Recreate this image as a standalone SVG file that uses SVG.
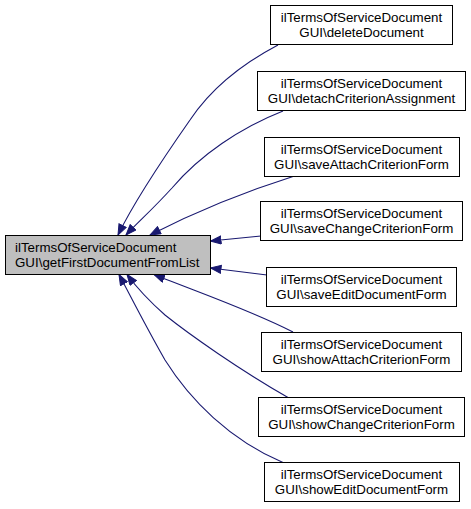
<svg xmlns="http://www.w3.org/2000/svg" width="471" height="509" viewBox="0 0 471 509">
<style>
.n rect{fill:#ffffff;stroke:#000000;stroke-width:1}
.m rect{fill:#bfbfbf;stroke:#000000;stroke-width:1}
text{font-family:"Liberation Sans",Arial,sans-serif;font-size:13.33px;fill:#000000}
.c text{text-anchor:middle}
.e path{fill:none;stroke:#191970;stroke-width:1.1;marker-end:url(#ah)}
</style>
<defs>
<marker id="ah" markerUnits="userSpaceOnUse" markerWidth="13" markerHeight="10" refX="11" refY="4.5" orient="auto">
<path d="M0.5,0.5 L11,4.5 L0.5,8.5 z" fill="#191970" stroke="#191970" stroke-width="1"/>
</marker>
</defs>
<rect width="471" height="509" fill="#ffffff"/>
<g id="edges" class="e">
<path d="M278,45 C240,65 210,90 190,120 C162,160 135,200 118,235"/>
<path d="M283,111 C240,128 200,155 172,188 C152,210 138,222 126,235"/>
<path d="M293,176.5 C250,190 195,212 150,235"/>
<path d="M261,236 L210.5,241"/>
<path d="M267,275 L210.5,268"/>
<path d="M293,332 C250,310 200,293 154,274.5"/>
<path d="M288,397.5 C240,370 190,335 165,315 C148,300 137,288 127,274.5"/>
<path d="M283,462.5 C230,440 190,400 165,360 C145,325 130,295 119,274.5"/>
</g>
<g id="main" class="m">
<rect x="5.5" y="235.5" width="205" height="39"/>
<text x="15" y="251.5">ilTermsOfServiceDocument</text>
<text x="15" y="266.5">GUI\getFirstDocumentFromList</text>
</g>
<g id="n1" class="n c">
<rect x="270.5" y="5.5" width="182" height="39"/>
<text x="361.5" y="21.5">ilTermsOfServiceDocument</text>
<text x="361.5" y="36.5">GUI\deleteDocument</text>
</g>
<g id="n2" class="n c">
<rect x="257.5" y="71.5" width="208" height="39"/>
<text x="361.5" y="87.5">ilTermsOfServiceDocument</text>
<text x="361.5" y="102.5">GUI\detachCriterionAssignment</text>
</g>
<g id="n3" class="n c">
<rect x="264.5" y="137.5" width="195" height="39"/>
<text x="361.5" y="153.5">ilTermsOfServiceDocument</text>
<text x="361.5" y="168.5">GUI\saveAttachCriterionForm</text>
</g>
<g id="n4" class="n c">
<rect x="260.5" y="201.5" width="202" height="39"/>
<text x="361.5" y="217.5">ilTermsOfServiceDocument</text>
<text x="361.5" y="232.5">GUI\saveChangeCriterionForm</text>
</g>
<g id="n5" class="n c">
<rect x="266.5" y="267.5" width="190" height="39"/>
<text x="361.5" y="283.5">ilTermsOfServiceDocument</text>
<text x="361.5" y="298.5">GUI\saveEditDocumentForm</text>
</g>
<g id="n6" class="n c">
<rect x="261.5" y="332.5" width="200" height="39"/>
<text x="361.5" y="348.5">ilTermsOfServiceDocument</text>
<text x="361.5" y="363.5">GUI\showAttachCriterionForm</text>
</g>
<g id="n7" class="n c">
<rect x="258.5" y="397.5" width="206" height="39"/>
<text x="361.5" y="413.5">ilTermsOfServiceDocument</text>
<text x="361.5" y="428.5">GUI\showChangeCriterionForm</text>
</g>
<g id="n8" class="n c">
<rect x="264.5" y="462.5" width="195" height="39"/>
<text x="361.5" y="478.5">ilTermsOfServiceDocument</text>
<text x="361.5" y="493.5">GUI\showEditDocumentForm</text>
</g>
</svg>
